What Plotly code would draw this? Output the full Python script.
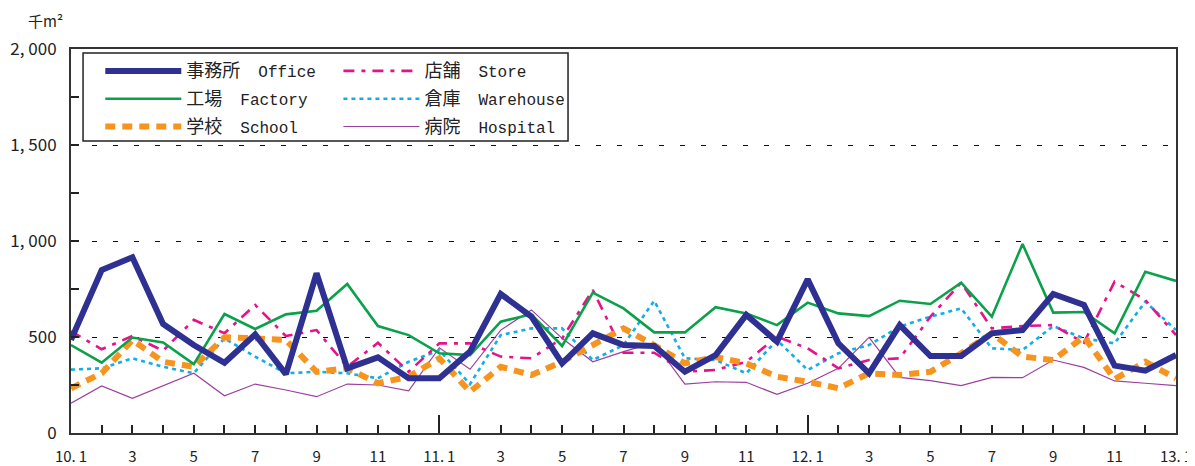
import plotly.graph_objects as go

# monthly floor area, Jan 2010 - Jan 2013 (thousand m2)
months = list(range(37))
tick_pos = list(range(0, 37, 2))
tick_text = ["10.\u20091", "3", "5", "7", "9", "11",
             "11.\u20091", "3", "5", "7", "9", "11",
             "12.\u20091", "3", "5", "7", "9", "11", "13.\u20091"]

office = [485, 849, 915, 568, 458, 366, 514, 307, 832, 337, 394, 285,
          285, 424, 724, 606, 363, 519, 458, 453, 319, 406, 615, 476,
          800, 467, 311, 562, 401, 401, 519, 536, 724, 667, 351, 325,
          406]
factory = [458, 366, 497, 472, 359, 620, 542, 618, 637, 776, 557, 510,
           415, 406, 580, 618, 453, 731, 649, 524, 524, 655, 623, 562,
           679, 623, 609, 689, 672, 783, 606, 984, 627, 630, 519, 840,
           792]
store = [530, 436, 505, 429, 589, 520, 667, 505, 536, 345, 470, 319,
         467, 467, 398, 389, 493, 745, 418, 418, 319, 328, 371, 502,
         441, 337, 380, 389, 606, 783, 545, 557, 562, 470, 788, 693,
         510]
warehouse = [330, 337, 389, 345, 311, 493, 398, 311, 319, 311, 285, 371,
             430, 255, 510, 545, 545, 380, 458, 689, 389, 380, 311, 484,
             328, 415, 458, 554, 606, 649, 441, 432, 557, 493, 467, 684,
             536]
school = [233, 311, 484, 371, 345, 498, 493, 484, 319, 337, 259, 293,
          389, 215, 345, 302, 371, 458, 545, 458, 363, 395, 363, 293,
          267, 233, 311, 302, 319, 415, 519, 398, 380, 502, 280, 371,
          285]
hospital = [155, 245, 181, 245, 311, 194, 255, 224, 189, 255, 250, 220,
            444, 332, 536, 641, 493, 371, 424, 470, 255, 267, 264, 201,
            259, 337, 498, 290, 273, 247, 290, 288, 380, 342, 271, 259,
            247]


def label(jp, en):
    return ("<span style='font-size:18px'>%s\u3000</span>"
            "<span style='font-family:Liberation Mono;font-size:16px'>%s</span>"
            % (jp, en))


# (name, values, color, width, dash, legend, rank) - drawn bottom to top
series = [
    (label("病院", "Hospital"), hospital, "#9b3f9e", 1.2, "solid", "legend2", 3),
    (label("倉庫", "Warehouse"), warehouse, "#12aee8", 2.6, "4px,4px", "legend2", 2),
    (label("店舗", "Store"), store, "#e8118c", 2.6, "11px,7px,4px,7px", "legend2", 1),
    (label("学校", "School"), school, "#f7941d", 6, "10px,7px", "legend", 3),
    (label("工場", "Factory"), factory, "#0aa14a", 2.6, "solid", "legend", 2),
    (label("事務所", "Office"), office, "#2e3192", 6, "solid", "legend", 1),
]

fig = go.Figure()
for i, (name, vals, color, width, dash, leg, rank) in enumerate(series):
    fig.add_trace(go.Scatter(x=months, y=vals, mode="lines", name=name,
                             line=dict(color=color, width=width, dash=dash),
                             legend=leg, legendrank=rank, legendgroup="g%d" % i))

# longer ticks at year boundaries
fig.add_trace(go.Scatter(x=[0, 36], y=[None, None], xaxis="x2",
                         showlegend=False, hoverinfo="skip"))

font = "Noto Sans CJK JP"
leg_style = dict(orientation="v", yanchor="top", xanchor="left", y=0.987,
                 itemwidth=76, tracegroupgap=4, borderwidth=0,
                 bgcolor="rgba(0,0,0,0)",
                 font=dict(family=font, size=16, color="#222"))

# page body adds an 8px offset, so the figure is 8px smaller than the window
fig.update_layout(
    width=1187, height=458,
    margin=dict(l=63, r=19, t=41, b=33, autoexpand=False),
    paper_bgcolor="white", plot_bgcolor="white",
    font=dict(family=font, size=16, color="#222"),
    showlegend=True,
    legend=dict(x=0.0265, **leg_style),
    legend2=dict(x=0.242, **leg_style),
    shapes=[dict(type="rect", xref="paper", yref="paper",
                 x0=0.0109, x1=0.4498, y0=0.7604, y1=0.9896,
                 line=dict(color="#222", width=1.5), fillcolor="white",
                 layer="above")],
    xaxis=dict(range=[0, 36], tickvals=tick_pos, ticktext=tick_text,
               ticks="inside", ticklen=8, tickwidth=1.5, tickcolor="#222",
               minor=dict(dtick=1, tick0=0, ticks="inside", ticklen=8,
                          tickwidth=1.5, tickcolor="#222"),
               showgrid=False, zeroline=False,
               showline=True, linecolor="#333", linewidth=2, mirror=True,
               ticklabelstandoff=9, tickfont=dict(size=15)),
    xaxis2=dict(range=[0, 36], overlaying="x", anchor="y", side="bottom",
                tickvals=[12, 24], ticks="inside", ticklen=18, tickwidth=1.5,
                tickcolor="#222", showticklabels=False, showgrid=False,
                zeroline=False, showline=False),
    yaxis=dict(range=[0, 2000], tickvals=[0, 500, 1000, 1500, 2000],
               ticktext=["0", "500", "1,\u00a0000", "1,\u00a0500", "2,\u00a0000"],
               ticks="inside", ticklen=8, tickwidth=1.5, tickcolor="#222",
               minor=dict(dtick=250, ticks="inside", ticklen=8,
                          tickwidth=1.5, tickcolor="#222", showgrid=False),
               showgrid=True, gridcolor="#111", gridwidth=1, griddash="5px,16px",
               zeroline=False,
               showline=True, linecolor="#333", linewidth=2, mirror=True,
               ticklabelstandoff=9, tickfont=dict(size=17)),
    annotations=[dict(text="千m²", xref="paper", yref="paper", x=-0.0235, y=1.0755,
                      xanchor="center", yanchor="middle", showarrow=False,
                      font=dict(family=font, size=15, color="#222"))],
)

fig.write_html("out.html")
